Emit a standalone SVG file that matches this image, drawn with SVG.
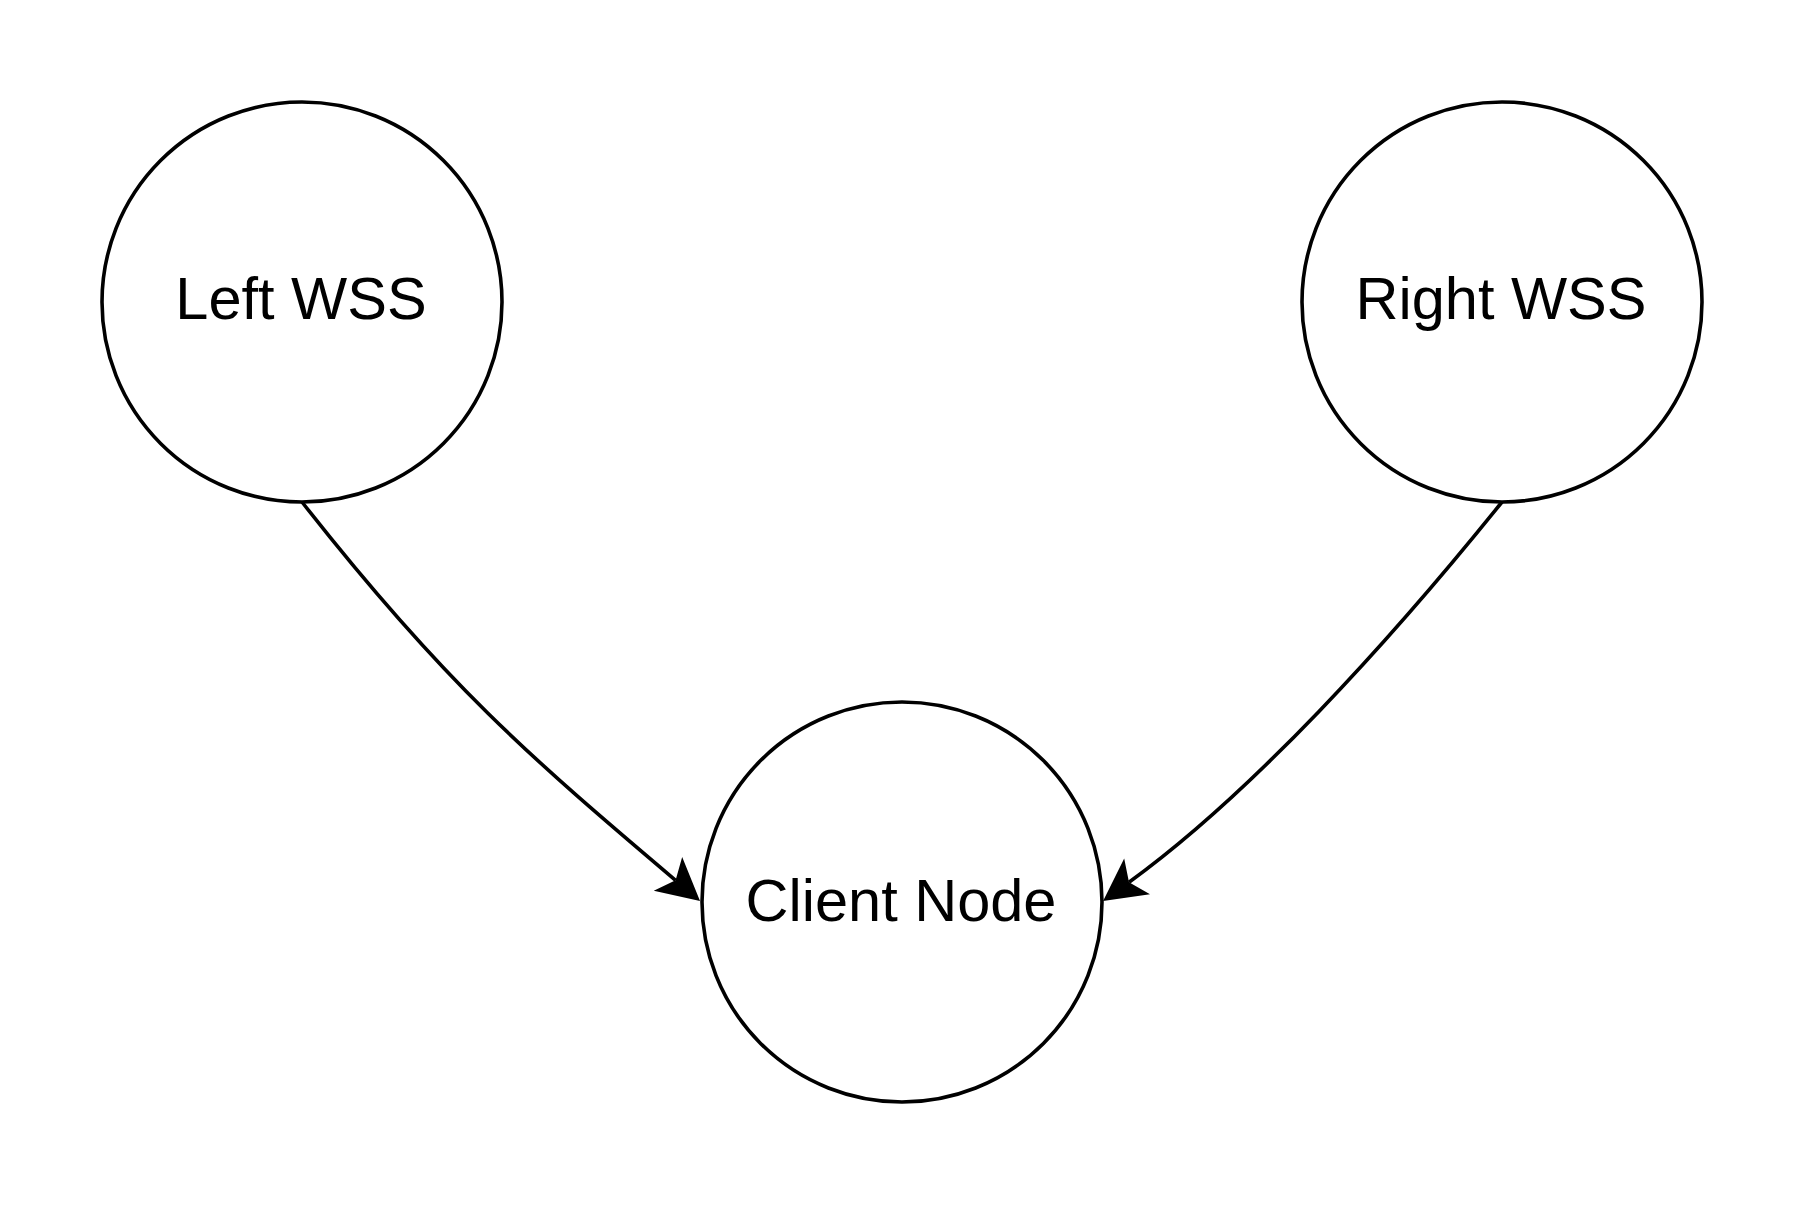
<svg xmlns="http://www.w3.org/2000/svg" width="1810" height="1210" viewBox="0 0 1810 1210">
  <style>
    .node circle { fill: #ffffff; stroke: #000000; stroke-width: 3.6; }
    .node text { font-family: "Liberation Sans", Arial, Helvetica, sans-serif; font-size: 59.5px; fill: #000000; text-anchor: middle; }
    .edge { fill: none; stroke: #000000; stroke-width: 3.6; marker-end: url(#arrow); }
  </style>
  <defs>
    <marker id="arrow" markerUnits="userSpaceOnUse" viewBox="0 -25 50 50" markerWidth="50" markerHeight="50" refX="10" refY="0" orient="auto" overflow="visible">
      <path d="M 42 0 L 0 -22 L 10 0 L 0 22 Z" fill="#000000" stroke="none"/>
    </marker>
  </defs>
  <rect x="0" y="0" width="1810" height="1210" fill="#ffffff"/>
  <g id="connectors">
    <path id="edge-left" class="edge" d="M 302 502 C 444 683 530.6 757.6 675.6 880.3"/>
    <path id="edge-right" class="edge" d="M 1502 502 C 1389.1 642.2 1250.5 794.2 1129 882.2"/>
  </g>
  <g id="node-left-wss" class="node">
    <circle cx="302" cy="302" r="200"/>
    <text x="301" y="319">Left WSS</text>
  </g>
  <g id="node-right-wss" class="node">
    <circle cx="1502" cy="302" r="200"/>
    <text x="1501" y="319">Right WSS</text>
  </g>
  <g id="node-client" class="node">
    <circle cx="902" cy="902" r="200"/>
    <text x="901" y="921">Client Node</text>
  </g>
</svg>
